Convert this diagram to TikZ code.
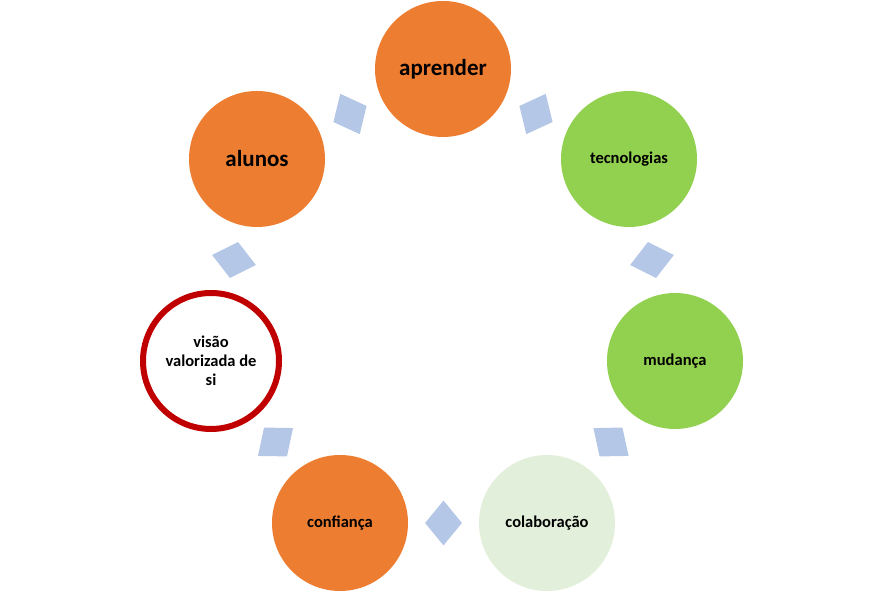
\documentclass[tikz,border=0pt]{standalone}
\usepackage{fontspec}
\setmainfont{Carlito}
\usetikzlibrary{calc,shapes.geometric}
\usepackage{xcolor}
\definecolor{cycleorange}{RGB}{237, 125, 49}
\definecolor{cyclegreen}{RGB}{146, 208, 80}
\definecolor{cyclepale}{RGB}{226, 239, 218}
\definecolor{cyclered}{RGB}{192, 0, 0}
\definecolor{cycleblue}{RGB}{180, 199, 231}

\begin{document}
\begin{tikzpicture}[x=1pt, y=1pt,
        stage/.style={circle, inner sep=0pt, minimum size=136pt, align=center, font=\bfseries\fontsize{16.5}{19}\selectfont},
        bigstage/.style={stage, font=\bfseries\fontsize{23}{27}\selectfont},
        link/.style={diamond, fill=cycleblue, inner sep=0pt, minimum width=37pt, minimum height=45pt}]
                \useasboundingbox (0,0) rectangle (886,593);

                % Circles of the cycle
                \node[bigstage, fill=cycleorange] (aprender) at (443,524) {aprender};
                \node[stage, fill=cyclegreen] (tecnologias) at (629,434) {tecnologias};
                \node[stage, fill=cyclegreen] (mudanca) at (675,232) {mudança};
                \node[stage, fill=cyclepale] (colaboracao) at (547,70) {colaboração};
                \node[stage, fill=cycleorange] (confianca) at (340,70) {confiança};
                \node[stage, fill=white, draw=cyclered, line width=6pt] (visao) at (211,232) {visão\\valorizada de\\si};
                \node[bigstage, fill=cycleorange] (alunos) at (257,434) {alunos};

                % Links between neighbouring circles
                \foreach \a/\b [count=\i] in {alunos/aprender, aprender/tecnologias, tecnologias/mudanca, mudanca/colaboracao, colaboracao/confianca, confianca/visao, visao/alunos} {
                    \path let \p1=($(\b)-(\a)$), \n1={atan2(\y1,\x1)} in
                        node[link, rotate=\n1] (link\i) at ($(\a)!0.5!(\b)$) {};
                }
            \end{tikzpicture}
\end{document}
